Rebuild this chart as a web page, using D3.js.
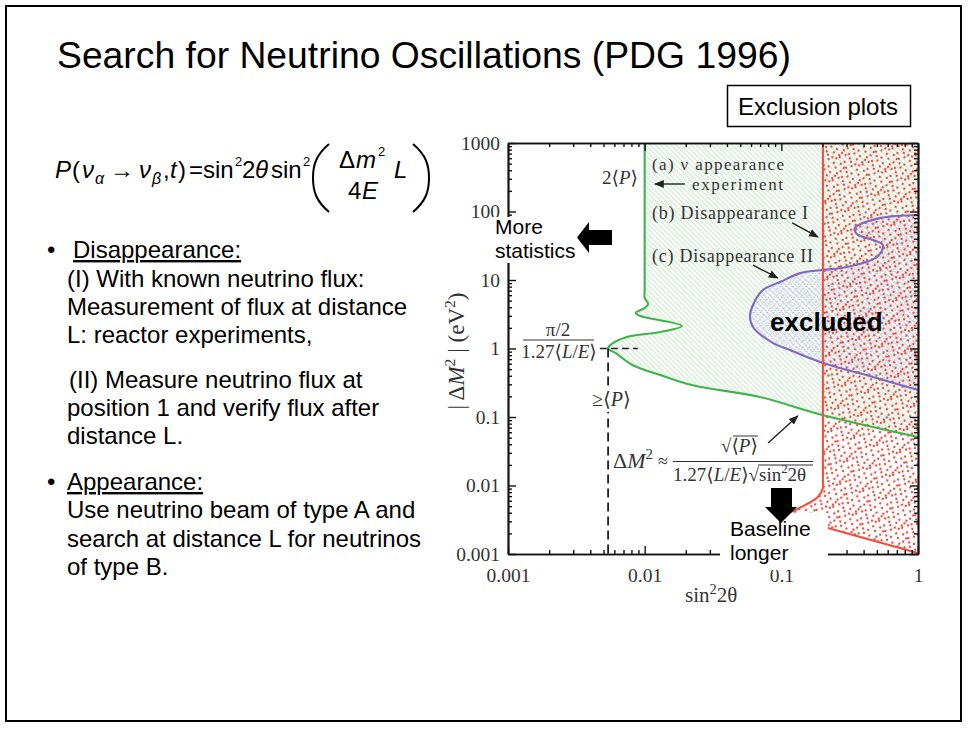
<!DOCTYPE html>
<html>
<head>
<meta charset="utf-8">
<title>Search for Neutrino Oscillations (PDG 1996)</title>
<script src="https://d3js.org/d3.v7.min.js"></script>
<style>
body { margin: 0; background: #fff; }
svg { display: block; }
.sans { font-family: "Liberation Sans", Arial, Helvetica, sans-serif; fill: #000; }
.serif { font-family: "Liberation Serif", "DejaVu Serif", "Times New Roman", serif; fill: #333; }
</style>
</head>
<body>
<div id="viz"></div>
<script>
// axis ticks
var xTickVals = [0.001, 0.01, 0.1, 1];
var xTickLabels = ["0.001", "0.01", "0.1", "1"];
var yTickVals = [0.001, 0.01, 0.1, 1, 10, 100, 1000];
var yTickLabels = ["0.001", "0.01", "0.1", "1", "10", "100", "1000"];

// (a) appearance experiment limit (sin^2 2theta , |dM^2| in eV^2)
var greenSin = [0.01, 0.01, 0.01, 0.0106, 0.0100, 0.0086, 0.0093, 0.0106, 0.0187, 0.013, 0.0074, 0.0056, 0.0054, 0.0061, 0.0082, 0.013, 0.0225, 0.0697, 0.2, 1];
var greenDm  = [1000, 7, 5.46, 4.47, 3.9, 3.3, 2.98, 2.79, 2.13, 1.74, 1.47, 1.12, 1.0, 0.86, 0.57, 0.41, 0.29, 0.196, 0.107, 0.051];

// (c) disappearance II
var purpleSin = [1, 0.526, 0.345, 0.356, 0.553, 0.5, 0.302, 0.2, 0.137, 0.098, 0.073, 0.061, 0.0589, 0.062, 0.087, 0.1156, 0.2, 0.468, 1];
var purpleDm  = [89, 80, 57.4, 47, 32.4, 21.7, 15.5, 14, 12.6, 9.35, 7.1, 4.0, 2.88, 2.06, 1.2, 0.95, 0.62, 0.384, 0.248];

// (b) disappearance I
var redUpperSin = [0.2014, 0.2014, 0.2014, 0.185, 0.15, 0.105];
var redUpperDm  = [1000, 0.012, 0.0092, 0.0068, 0.0052, 0.0037];
var redLowerSin = [0.105, 0.219, 1];
var redLowerDm  = [0.0037, 0.0024, 0.00103];

// dashed construction lines
var dashSin = 0.0054, dashDm = 1.0;

var W = 968, H = 729;
var svg = d3.select("#viz").append("svg").attr("width", W).attr("height", H);
var defs = svg.append("defs");

// slide frame + title
svg.append("rect").attr("x", 6).attr("y", 6).attr("width", 955).attr("height", 715)
	.attr("fill", "#fff").attr("stroke", "#000").attr("stroke-width", 2);
svg.append("text").attr("class", "sans").attr("x", 57).attr("y", 68).attr("font-size", 37.3)
	.text("Search for Neutrino Oscillations (PDG 1996)");

svg.append("rect").attr("x", 727.5).attr("y", 85.5).attr("width", 183).attr("height", 41)
	.attr("fill", "#fff").attr("stroke", "#000").attr("stroke-width", 1.5);
svg.append("text").attr("class", "sans").attr("x", 738).attr("y", 115).attr("font-size", 24).text("Exclusion plots");

// formula P(...)
var fg = svg.append("g").attr("class", "sans").attr("font-size", 24);
function ft(x0, y0, s, it, size) {
	var t = fg.append("text").attr("x", x0).attr("y", y0).text(s);
	if (it) t.attr("font-style", "italic");
	if (size) t.attr("font-size", size);
	return t;
}
ft(55, 178, "P", 1);
ft(72, 178, "(");
ft(82, 178, "ν", 1);
ft(95, 184, "α", 1, 16);
ft(110, 178, "→");
ft(139, 178, "ν", 1);
ft(152, 184, "β", 1, 16);
ft(163, 178, ",");
ft(170, 178, "t", 1);
ft(178, 178, ")");
ft(189, 178, "=");
ft(203, 178, "sin");
ft(235, 166, "2", 0, 13);
ft(242, 178, "2");
ft(255, 178, "θ", 1);
ft(271, 178, "sin");
ft(303, 166, "2", 0, 13);
ft(339, 168, "Δ");
ft(356, 168, "m", 1);
ft(378, 156, "2", 0, 13);
ft(348, 199, "4");
ft(362, 199, "E", 1);
ft(394, 178, "L", 1);
fg.append("path").attr("d", "M329,144 C316,155 313,165 313,178 C313,191 316,201 329,212")
	.attr("fill", "none").attr("stroke", "#000").attr("stroke-width", 2);
fg.append("path").attr("d", "M413,144 C426,155 429,165 429,178 C429,191 426,201 413,212")
	.attr("fill", "none").attr("stroke", "#000").attr("stroke-width", 2);

// bullet text
var body = svg.append("g").attr("class", "sans").attr("font-size", 24);
body.append("text").attr("x", 47).attr("y", 258).text("•");
body.append("text").attr("x", 73).attr("y", 258).attr("text-decoration", "underline").text("Disappearance:");
var lines1 = [[67, 287, "(I) With known neutrino flux:"], [67, 315, "Measurement of flux at distance"],
	[67, 343, "L: reactor experiments,"], [69, 388, "(II) Measure neutrino flux at"],
	[67, 416, "position 1 and verify flux after"], [67, 444, "distance L."],
	[67, 518, "Use neutrino beam of type A and"], [67, 547, "search at distance L for neutrinos"],
	[67, 575, "of type B."]];
lines1.forEach(function(l) { body.append("text").attr("x", l[0]).attr("y", l[1]).text(l[2]); });
body.append("text").attr("x", 47).attr("y", 490).text("•");
body.append("text").attr("x", 67).attr("y", 490).attr("text-decoration", "underline").text("Appearance:");

// ---------- chart ----------
var x = d3.scaleLog().domain([0.001, 1]).range([508, 918]);
var y = d3.scaleLog().domain([0.001, 1000]).range([554, 143]);

defs.append("clipPath").attr("id", "plotclip").append("rect")
	.attr("x", x(0.001)).attr("y", y(1000)).attr("width", x(1) - x(0.001)).attr("height", y(0.001) - y(1000));

var pg = defs.append("pattern").attr("id", "hatchG").attr("patternUnits", "userSpaceOnUse")
	.attr("width", 3.6).attr("height", 3.6).attr("patternTransform", "rotate(-45)");
pg.append("line").attr("x1", 1).attr("y1", 0).attr("x2", 1).attr("y2", 3.6)
	.attr("stroke", "#c2e2c2").attr("stroke-width", 1);

var pp = defs.append("pattern").attr("id", "hatchP").attr("patternUnits", "userSpaceOnUse")
	.attr("width", 6.5).attr("height", 6.5);
pp.append("path").attr("d", "M0,0L6.5,6.5M6.5,0L0,6.5").attr("stroke", "#c6bcec").attr("stroke-width", 1)
	.attr("stroke-dasharray", "1.5,1.6").attr("fill", "none");

var dotTile = [[2,3],[9,1],[15,4],[21,2],[5,8],[12,7],[18,9],[23,6],[1,13],[8,12],[14,14],[20,13],
	[4,18],[11,17],[17,19],[22,17],[2,22],[8,23],[14,21],[19,23],[6,3],[10,20],[16,10]];
var pr = defs.append("pattern").attr("id", "dotsR").attr("patternUnits", "userSpaceOnUse")
	.attr("width", 24).attr("height", 24).attr("patternTransform", "rotate(17)");
dotTile.forEach(function(d) {
	pr.append("circle").attr("cx", d[0]).attr("cy", d[1]).attr("r", 1.15).attr("fill", "#ef3f2e");
});

function pts(xs, ys) { return xs.map(function(v, i) { return [v, ys[i]]; }); }
var smooth = d3.line().x(function(d) { return x(d[0]); }).y(function(d) { return y(d[1]); })
	.curve(d3.curveCatmullRom.alpha(0.5));
var straight = d3.line().x(function(d) { return x(d[0]); }).y(function(d) { return y(d[1]); });

var greenPts = pts(greenSin, greenDm);
var purplePts = pts(purpleSin, purpleDm);
var redUp = pts(redUpperSin, redUpperDm);
var redLow = pts(redLowerSin, redLowerDm);

var plot = svg.append("g").attr("clip-path", "url(#plotclip)");

plot.append("path").attr("d", smooth(greenPts) + "L" + x(1) + "," + y(1000) + "Z").attr("fill", "url(#hatchG)");
plot.append("path").attr("d", smooth(purplePts) + "Z").attr("fill", "url(#hatchP)");
plot.append("path").attr("d", smooth(redUp) + straight(redLow).replace("M", "L") + "L" + x(1) + "," + y(1000) + "Z")
	.attr("fill", "url(#dotsR)");

plot.append("path").attr("d", smooth(greenPts)).attr("fill", "none").attr("stroke", "#3db54a").attr("stroke-width", 2.1);
plot.append("path").attr("d", smooth(purplePts)).attr("fill", "none").attr("stroke", "#7d68c6").attr("stroke-width", 2.1);
plot.append("path").attr("d", smooth(redUp) + straight(redLow).replace("M", "L")).attr("fill", "none")
	.attr("stroke", "#f0503e").attr("stroke-width", 2.1);

// dashed construction lines
svg.append("line").attr("x1", x(dashSin)).attr("x2", x(dashSin)).attr("y1", y(dashDm)).attr("y2", y(0.001))
	.attr("stroke", "#222").attr("stroke-width", 1.8).attr("stroke-dasharray", "9,5");
svg.append("line").attr("x1", x(0.0047)).attr("x2", x(0.0089)).attr("y1", y(dashDm)).attr("y2", y(dashDm))
	.attr("stroke", "#222").attr("stroke-width", 1.6).attr("stroke-dasharray", "7,4");

// axes
var minorX = x.ticks().filter(function(v) { return xTickVals.indexOf(+v.toPrecision(3)) < 0; });
var minorY = y.ticks().filter(function(v) { return yTickVals.indexOf(+v.toPrecision(3)) < 0; });

function drawAxis(axisFn, scale, tr, majors, minors, labels, pad) {
	var g = svg.append("g").attr("transform", tr);
	var ax = axisFn(scale).tickValues(majors).tickSize(-8).tickSizeOuter(0).tickPadding(pad || 8);
	if (labels) ax.tickFormat(function(d, i) { return labels[i]; }); else ax.tickFormat("");
	g.call(ax);
	g.append("g").call(axisFn(scale).tickValues(minors).tickSize(-4).tickSizeOuter(0).tickFormat(""));
	g.selectAll("path.domain").attr("stroke", "#111").attr("stroke-width", 1.7);
	g.selectAll("line").attr("stroke", "#111").attr("stroke-width", 1.4);
	g.selectAll("text").attr("class", "serif").attr("font-size", 19.5).attr("fill", "#333");
	return g;
}
drawAxis(d3.axisBottom, x, "translate(0," + y(0.001) + ")", xTickVals, minorX, xTickLabels, 14);
drawAxis(d3.axisTop, x, "translate(0," + y(1000) + ")", xTickVals, minorX, null);
drawAxis(d3.axisLeft, y, "translate(" + x(0.001) + ",0)", yTickVals, minorY, yTickLabels, 8);
drawAxis(d3.axisRight, y, "translate(" + x(1) + ",0)", yTickVals, minorY, null);

// rich serif text: parts = [text, flags] ; flags: i italic, s superscript
function lab(x0, y0, parts, size, anchor, parent) {
	size = size || 18;
	var t = (parent || svg).append("text").attr("class", "serif").attr("x", x0).attr("y", y0).attr("font-size", size);
	if (anchor) t.attr("text-anchor", anchor);
	var up = false;
	parts.forEach(function(p) {
		var f = p[1] || "";
		var s = t.append("tspan").text(p[0]);
		if (f.indexOf("i") >= 0) s.attr("font-style", "italic");
		if (f.indexOf("s") >= 0) {
			s.attr("font-size", size * 0.68);
			if (!up) s.attr("dy", -size * 0.4);
			up = true;
		} else if (up) {
			s.attr("dy", size * 0.4);
			up = false;
		}
	});
	return t;
}

// axis titles
var ytg = svg.append("g").attr("transform", "translate(464,351) rotate(-90)");
lab(0, 0, [["| Δ"], ["M", "i"], ["2", "s"], [" |   (eV"], ["2", "s"], [")"]], 23, "middle", ytg);
lab(685, 602, [["sin"], ["2", "s"], ["2θ"]], 21);

// chart labels
lab(638, 184, [["2⟨"], ["P", "i"], ["⟩"]], 19, "end");
lab(652, 170, [["(a) ν appearance"]], 17).attr("textLength", 132);
lab(692, 190, [["experiment"]], 17).attr("textLength", 91);
lab(652, 219, [["(b) Disappearance I"]], 18).attr("textLength", 156);
lab(652, 262, [["(c) Disappearance II"]], 18).attr("textLength", 161);

svg.append("rect").attr("x", 590).attr("y", 388).attr("width", 45).attr("height", 24).attr("fill", "#fff");
lab(592, 406, [["≥⟨"], ["P", "i"], ["⟩"]], 20);

lab(558, 336, [["π/2"]], 19, "middle");
svg.append("line").attr("x1", 523).attr("x2", 594).attr("y1", 340).attr("y2", 340).attr("stroke", "#333").attr("stroke-width", 1.1);
lab(559, 358, [["1.27⟨"], ["L", "i"], ["/"], ["E", "i"], ["⟩"]], 19, "middle");

lab(613, 468, [["Δ"], ["M", "i"], ["2", "s"]], 22);
lab(658, 467, [["≈"]], 18);
svg.append("line").attr("x1", 673).attr("x2", 813).attr("y1", 461.5).attr("y2", 461.5).attr("stroke", "#333").attr("stroke-width", 1.1);
lab(721, 452, [["√⟨"], ["P", "i"], ["⟩"]], 19);
svg.append("line").attr("x1", 733).attr("x2", 758).attr("y1", 436).attr("y2", 436).attr("stroke", "#333").attr("stroke-width", 1);
lab(673, 481, [["1.27⟨"], ["L", "i"], ["/"], ["E", "i"], ["⟩√sin"], ["2", "s"], ["2θ"]], 19);
svg.append("line").attr("x1", 758).attr("x2", 813).attr("y1", 465).attr("y2", 465).attr("stroke", "#333").attr("stroke-width", 1);

// thin annotation arrows
defs.append("marker").attr("id", "ah").attr("viewBox", "0 0 10 10").attr("refX", 9).attr("refY", 5)
	.attr("markerWidth", 7).attr("markerHeight", 7).attr("orient", "auto-start-reverse")
	.append("path").attr("d", "M0,1L10,5L0,9Z").attr("fill", "#222");
var arrows = [[[0.0197, 252], [0.0119, 252]], [[0.12, 68], [0.185, 42.5]],
	[[0.062, 16.5], [0.094, 10.7]], [[0.080, 0.0417], [0.132, 0.1035]]];
arrows.forEach(function(a) {
	svg.append("line").attr("x1", x(a[0][0])).attr("y1", y(a[0][1])).attr("x2", x(a[1][0])).attr("y2", y(a[1][1]))
		.attr("stroke", "#222").attr("stroke-width", 1.4).attr("marker-end", "url(#ah)");
});

// overlay notes
svg.append("rect").attr("x", 493).attr("y", 217).attr("width", 85).attr("height", 46).attr("fill", "#fff");
svg.append("text").attr("class", "sans").attr("font-size", 21).attr("x", 495).attr("y", 234).text("More");
svg.append("text").attr("class", "sans").attr("font-size", 21).attr("x", 495).attr("y", 258).text("statistics");
svg.append("rect").attr("x", 587).attr("y", 230).attr("width", 25).attr("height", 15).attr("fill", "#000");
svg.append("path").attr("d", "M589,222L589,253L577,237.5Z").attr("fill", "#000");

svg.append("rect").attr("x", 720).attr("y", 513).attr("width", 108).attr("height", 57).attr("fill", "#fff");
svg.append("rect").attr("x", 771).attr("y", 488).attr("width", 21).attr("height", 21).attr("fill", "#000");
svg.append("path").attr("d", "M765,507L797,507L781,523Z").attr("fill", "#000");
svg.append("text").attr("class", "sans").attr("font-size", 21).attr("x", 730).attr("y", 536).text("Baseline");
svg.append("text").attr("class", "sans").attr("font-size", 21).attr("x", 730).attr("y", 560).text("longer");

svg.append("text").attr("class", "sans").attr("font-size", 26).attr("font-weight", "bold")
	.attr("x", 770).attr("y", 331).text("excluded");
</script>
</body>
</html>
